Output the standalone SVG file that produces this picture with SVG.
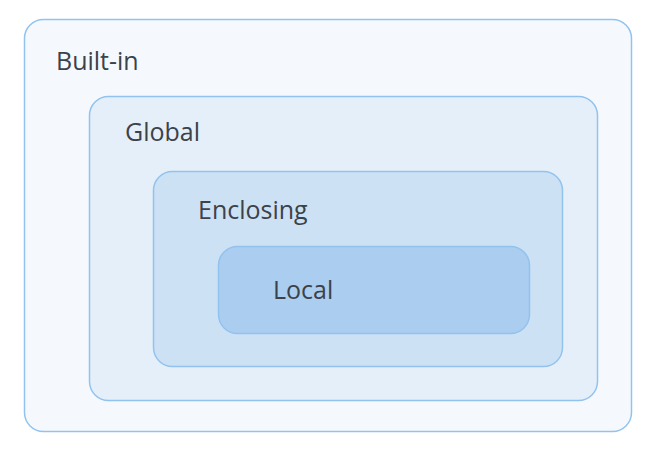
<svg xmlns="http://www.w3.org/2000/svg" width="662" height="449" viewBox="0 0 662 449">
<style>
.box{stroke:#92c3ee;stroke-width:1.5}
.lbl{font-family:"Open Sans","DejaVu Sans",sans-serif;font-size:25px;fill:#3c4249}
</style>
<rect width="662" height="449" fill="#ffffff"/>
<g id="builtin">
<rect class="box" x="24.5" y="19.5" width="607" height="412" rx="19" fill="#f5f9fe"/>
<text class="lbl" x="56" y="70">Built-in</text>
</g>
<g id="global">
<rect class="box" x="89.5" y="96.5" width="508" height="304" rx="19" fill="#e5eff9"/>
<text class="lbl" x="125" y="141">Global</text>
</g>
<g id="enclosing">
<rect class="box" x="153.5" y="171.5" width="409" height="195" rx="19" fill="#cde1f5"/>
<text class="lbl" x="198" y="219">Enclosing</text>
</g>
<g id="local">
<rect class="box" x="218.5" y="246.5" width="311" height="87" rx="19" fill="#aacdf0"/>
<text class="lbl" x="273" y="299">Local</text>
</g>
<g id="connectors"/>
</svg>
